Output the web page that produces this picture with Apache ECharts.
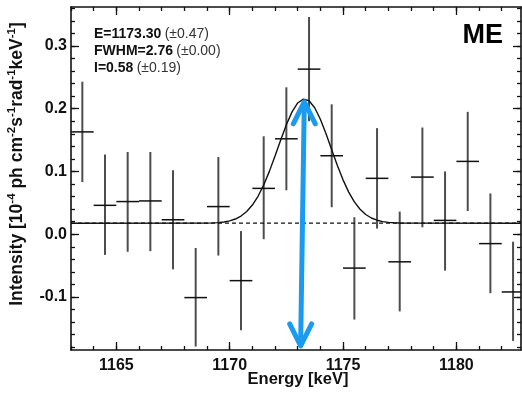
<!DOCTYPE html>
<html><head><meta charset="utf-8">
<script src="https://cdn.jsdelivr.net/npm/echarts@6/dist/echarts.min.js"></script>
<style>html,body{margin:0;padding:0;background:#fff}#c{width:522px;height:394px}</style>
</head><body><div id="c"></div>
<script>
// ---- data ----
const energy = [1163.5,1164.5,1165.5,1166.5,1167.5,1168.5,1169.5,1170.5,1171.5,1172.5,1173.5,1174.5,1175.5,1176.5,1177.5,1178.5,1179.5,1180.5,1181.5,1182.5];
const intensity = [0.163,0.046,0.052,0.053,0.023,-0.101,0.044,-0.074,0.073,0.152,0.263,0.125,-0.054,0.089,-0.044,0.091,0.022,0.116,-0.015,-0.092];
const errHigh = [0.243,0.127,0.131,0.131,0.102,-0.022,0.123,0.005,0.156,0.234,0.346,0.207,0.027,0.169,0.036,0.170,0.100,0.195,0.065,-0.012];
const errLow = [0.083,-0.033,-0.028,-0.027,-0.056,-0.179,-0.034,-0.153,-0.008,0.070,0.180,0.043,-0.136,0.009,-0.123,0.011,-0.058,0.037,-0.094,-0.170];
const modelEnergy = [1163,1169.0,1169.25,1169.5,1169.75,1170.0,1170.25,1170.5,1170.75,1171.0,1171.25,1171.5,1171.75,1172.0,1172.25,1172.5,1172.75,1173.0,1173.25,1173.5,1173.75,1174.0,1174.25,1174.5,1174.75,1175.0,1175.25,1175.5,1175.75,1176.0,1176.25,1176.5,1176.75,1177.0,1177.25,1177.5,1177.75,1182.85];
const modelIntensity = [0.0175,0.0177,0.0180,0.0185,0.0195,0.0213,0.0242,0.0289,0.0361,0.0464,0.0604,0.0784,0.1001,0.1245,0.1500,0.1744,0.1949,0.2091,0.2153,0.2126,0.2014,0.1831,0.1600,0.1347,0.1096,0.0866,0.0671,0.0515,0.0398,0.0314,0.0258,0.0223,0.0201,0.0189,0.0182,0.0178,0.0176,0.0175];
const baselineEnergy = [1163, 1182.85];
const baselineIntensity = [0.0175, 0.0175];
const arrowEnergy = [1173.29, 1173.13];
const arrowIntensity = [0.211, -0.178];
const xMajorTicks = [1165,1170,1175,1180];
const xMinorTicks = [1163,1164,1165,1166,1167,1168,1169,1170,1171,1172,1173,1174,1175,1176,1177,1178,1179,1180,1181,1182];
const yMajorTicks = [-0.1,0,0.1,0.2,0.3];
const yMinorTicks = [-0.18,-0.16,-0.14,-0.12,-0.1,-0.08,-0.06,-0.04,-0.02,0,0.02,0.04,0.06,0.08,0.1,0.12,0.14,0.16,0.18,0.2,0.22,0.24,0.26,0.28,0.3,0.32,0.34,0.36];
const fitNames = ['E=1173.30','FWHM=2.76','I=0.58'];
const fitErrors = ['(\u00b10.47)','(\u00b10.00)','(\u00b10.19)'];
const detectorLabel = 'ME';
const xTitle = 'Energy [keV]';
// y title pieces: [text, isSuperscript]
const yTitleParts = [['Intensity [10',0],['-4',1],[' ph cm',0],['-2',1],['s',0],['-1',1],['rad',0],['-1',1],['keV',0],['-1',1],[']',0]];

// ---- chart ----
const FONT = '"Liberation Sans", Arial, sans-serif';
const X_MIN = 1163, X_MAX = 1182.85, Y_MIN = -0.1845, Y_MAX = 0.362;
const lineCol = '#111';

function xAx(pos, ticks, len, labels) {
  return {
    type: 'value', position: pos, min: X_MIN, max: X_MAX, gridIndex: 0,
    axisLine: { show: len > 6, onZero: false, lineStyle: { color: lineCol, width: 1.6 } },
    axisTick: { show: true, inside: true, length: len, customValues: ticks, lineStyle: { color: lineCol, width: 1.3 } },
    axisLabel: labels ? { show: true, customValues: ticks, margin: 8, fontFamily: FONT, fontWeight: 'bold', fontSize: 16, color: '#111', formatter: v => String(Math.round(v)) } : { show: false },
    splitLine: { show: false }
  };
}
function yAx(pos, ticks, len, labels) {
  return {
    type: 'value', position: pos, min: Y_MIN, max: Y_MAX, gridIndex: 0,
    axisLine: { show: len > 6, onZero: false, lineStyle: { color: lineCol, width: 1.6 } },
    axisTick: { show: true, inside: true, length: len, customValues: ticks, lineStyle: { color: lineCol, width: 1.3 } },
    axisLabel: labels ? { show: true, customValues: ticks, margin: 4, fontFamily: FONT, fontWeight: 'bold', fontSize: 16, color: '#111', formatter: v => v.toFixed(1) } : { show: false },
    splitLine: { show: false }
  };
}

const chart = echarts.init(document.getElementById('c'), null, { renderer: 'canvas' });
const option = {
  animation: false,
  backgroundColor: '#fff',
  grid: { left: 71, right: 1, top: 7, bottom: 44, containLabel: false },
  xAxis: [ xAx('bottom', xMajorTicks, 8, true), xAx('bottom', xMinorTicks, 4, false), xAx('top', xMajorTicks, 8, false), xAx('top', xMinorTicks, 4, false) ],
  yAxis: [ yAx('left', yMajorTicks, 8, true), yAx('left', yMinorTicks, 4, false), yAx('right', yMajorTicks, 8, false), yAx('right', yMinorTicks, 4, false) ],
  series: [
    {
      type: 'custom', clip: true, z: 3,
      data: energy.map((e, i) => [e, intensity[i], errLow[i], errHigh[i]]),
      encode: { x: 0, y: [1, 2, 3] },
      renderItem(params, api) {
        const x = api.value(0), y = api.value(1);
        const lo = api.coord([x, api.value(2)]), hi = api.coord([x, api.value(3)]);
        const l = api.coord([x - 0.5, y]), r = api.coord([x + 0.5, y]);
        return { type: 'group', children: [
          { type: 'line', shape: { x1: lo[0], y1: lo[1], x2: hi[0], y2: hi[1] }, style: { stroke: '#4d4d4d', lineWidth: 2 } },
          { type: 'line', shape: { x1: l[0], y1: l[1], x2: r[0], y2: r[1] }, style: { stroke: '#111', lineWidth: 1.5 } }
        ] };
      }
    },
    {
      type: 'line', z: 4, symbol: 'none', silent: true,
      data: baselineEnergy.map((e, i) => [e, baselineIntensity[i]]),
      lineStyle: { color: '#111', width: 1.2, type: [4, 3] }
    },
    {
      type: 'line', z: 5, symbol: 'none', silent: true,
      data: modelEnergy.map((e, i) => [e, modelIntensity[i]]),
      lineStyle: { color: '#111', width: 1.4 }
    },
    {
      type: 'custom', z: 6, clip: false,
      data: [[arrowEnergy[0], arrowIntensity[0], arrowEnergy[1], arrowIntensity[1]]],
      encode: { x: [0, 2], y: [1, 3] },
      renderItem(params, api) {
        const t = api.coord([api.value(0), api.value(1)]);
        const b = api.coord([api.value(2), api.value(3)]);
        const st = { stroke: '#1a9bf0', lineWidth: 5, lineCap: 'round', lineJoin: 'round', fill: null };
        return { type: 'group', children: [
          { type: 'line', shape: { x1: t[0], y1: t[1] + 2, x2: b[0], y2: b[1] - 2 }, style: st },
          { type: 'polyline', shape: { points: [[t[0] - 11, t[1] + 22], [t[0], t[1]], [t[0] + 11, t[1] + 22]] }, style: st },
          { type: 'polyline', shape: { points: [[b[0] - 11, b[1] - 22], [b[0], b[1]], [b[0] + 11, b[1] - 22]] }, style: st }
        ] };
      }
    }
  ],
  graphic: [
    ...fitNames.map((n, i) => ({
      type: 'text', left: 94, top: 27 + 17 * i, z: 10,
      style: {
        text: '{b|' + n + '} {n|' + fitErrors[i] + '}',
        rich: {
          b: { fontFamily: FONT, fontWeight: 'bold', fontSize: 14, fill: '#111' },
          n: { fontFamily: FONT, fontWeight: 'normal', fontSize: 14, fill: '#333' }
        }
      }
    })),
    { type: 'text', right: 19, top: 22, z: 10,
      style: { text: detectorLabel, fontFamily: FONT, fontWeight: 'bold', fontSize: 27, fill: '#000' } },
    { type: 'text', x: 17, y: 164, rotation: Math.PI / 2, z: 10,
      style: {
        text: yTitleParts.map(p => (p[1] ? '{s|' : '{m|') + p[0] + '}').join(''),
        align: 'center', verticalAlign: 'middle',
        rich: {
          m: { fontFamily: FONT, fontWeight: 'bold', fontSize: 17.5, lineHeight: 22, fill: '#111' },
          s: { fontFamily: FONT, fontWeight: 'bold', fontSize: 11.5, lineHeight: 11, verticalAlign: 'top', fill: '#111' }
        }
      } },
    { type: 'text', x: 298, y: 379, z: 10,
      style: { text: xTitle, fontFamily: FONT, fontWeight: 'bold', fontSize: 16.5, fill: '#111', align: 'center', verticalAlign: 'middle' } }
  ]
};
chart.setOption(option);
</script>
</body></html>
